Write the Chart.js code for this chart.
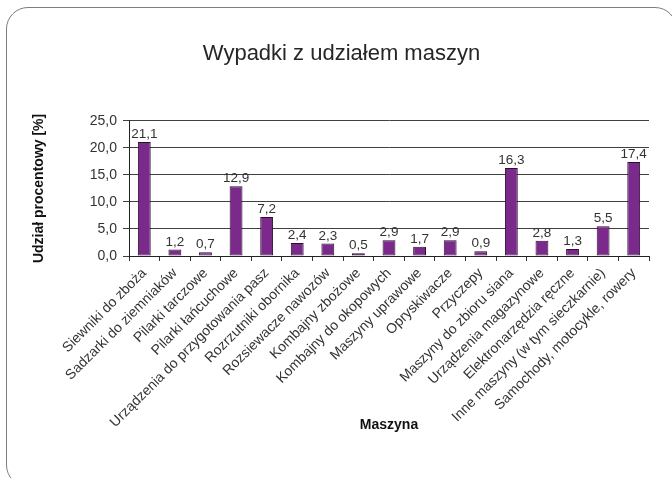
<!DOCTYPE html>
<html><head><meta charset="utf-8">
<script src="https://cdn.jsdelivr.net/npm/chart.js@4/dist/chart.umd.min.js"></script>
<style>
html,body{margin:0;padding:0;background:#fff;}
#wrap{position:relative;width:672px;height:478px;overflow:hidden;background:#fff;}
#frame{position:absolute;left:6px;top:7px;width:671px;height:480px;border:1.5px solid #7e7f70;border-radius:22px;box-sizing:border-box;}
#c{position:absolute;left:0;top:0;}
</style></head><body>
<div id="wrap"><div id="frame"></div><canvas id="c" width="672" height="478"></canvas></div>
<script>
const categories = [
  'Siewniki do zboża',
  'Sadzarki do ziemniaków',
  'Pilarki tarczowe',
  'Pilarki łańcuchowe',
  'Urządzenia do przygotowania pasz',
  'Rozrzutniki obornika',
  'Rozsiewacze nawozów',
  'Kombajny zbożowe',
  'Kombajny do okopowych',
  'Maszyny uprawowe',
  'Opryskiwacze',
  'Przyczepy',
  'Maszyny do zbioru siana',
  'Urządzenia magazynowe',
  'Elektronarzędzia ręczne',
  'Inne maszyny (w tym sieczkarnie)',
  'Samochody, motocykle, rowery'
];
const values = [21.1, 1.2, 0.7, 12.9, 7.2, 2.4, 2.3, 0.5, 2.9, 1.7, 2.9, 0.9, 16.3, 2.8, 1.3, 5.5, 17.4];
const yMin = 0, yMax = 25, yStep = 5;
const titleText = 'Wypadki z udziałem maszyn';
const xTitle = 'Maszyna';
const yTitle = 'Udział procentowy [%]';

const FONT = '"Liberation Sans", Arial, sans-serif';
const fmt = v => Number(v).toFixed(1).replace('.', ',');

const valueLabels = {
  id: 'valueLabels',
  afterDatasetsDraw(chart) {
    const ctx = chart.ctx;
    const meta = chart.getDatasetMeta(0);
    ctx.save();
    ctx.font = '13.5px ' + FONT;
    ctx.fillStyle = '#333';
    ctx.textAlign = 'center';
    ctx.textBaseline = 'alphabetic';
    meta.data.forEach((bar, i) => {
      ctx.fillText(fmt(values[i]), bar.x, bar.y - 4);
    });
    ctx.restore();
  }
};

const centerTitle = {
  id: 'centerTitle',
  afterLayout(chart) {
    const t = chart.titleBlock;
    if (t) { t.left += 17; t.right += 17; }
  }
};

new Chart(document.getElementById('c').getContext('2d'), {
  type: 'bar',
  data: {
    labels: categories,
    datasets: [{
      data: values,
      backgroundColor: '#7b2a8b',
      borderColor: '#2a0f2e',
      borderWidth: 1,
      borderSkipped: false,
      barPercentage: 0.42,
      categoryPercentage: 1.0
    }]
  },
  options: {
    responsive: false,
    animation: false,
    devicePixelRatio: 1,
    layout: { padding: { left: 0, right: 23, top: 0, bottom: 0 } },
    plugins: {
      legend: { display: false },
      tooltip: { enabled: false },
      title: {
        display: true,
        text: titleText,
        color: '#262626',
        font: { family: FONT, size: 22, weight: 'normal' },
        padding: { top: 41, bottom: 53.5 }
      }
    },
    scales: {
      x: {
        offset: true,
        grid: { drawOnChartArea: false, drawTicks: true, tickLength: 5, color: '#333', offset: true },
        border: { color: '#222', width: 1 },
        ticks: {
          autoSkip: false, minRotation: 45, maxRotation: 45,
          color: '#333', font: { family: FONT, size: 14 }, padding: 4
        },
        title: {
          display: true, text: xTitle, color: '#111',
          font: { family: FONT, size: 14, weight: 'bold' },
          padding: { top: 0, bottom: 44 }
        },
        afterFit(s) { s.height = 222; }
      },
      y: {
        min: yMin, max: yMax,
        ticks: {
          stepSize: yStep, callback: v => fmt(v),
          color: '#333', font: { family: FONT, size: 14 }, padding: 6
        },
        grid: { color: '#404040', tickLength: 6, lineWidth: 1 },
        border: { color: '#222', width: 1 },
        title: {
          display: true, text: yTitle, color: '#111',
          font: { family: FONT, size: 14, weight: 'bold' },
          padding: { top: 30.6, bottom: 0 }
        },
        afterFit(s) { s.width = 129; }
      }
    }
  },
  plugins: [valueLabels, centerTitle]
});
</script>
</body></html>
